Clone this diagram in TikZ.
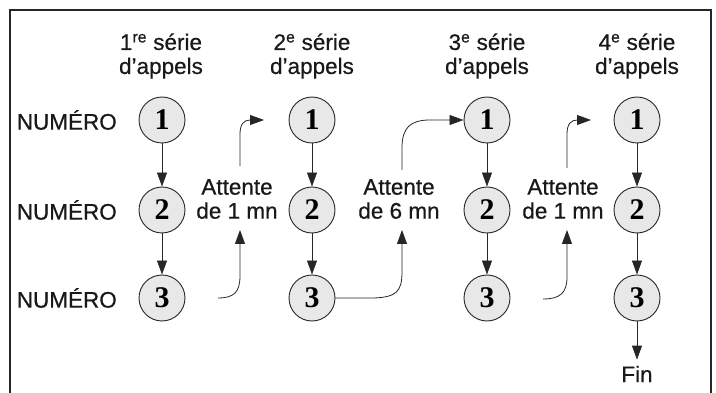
\documentclass[tikz,border=0pt]{standalone}
\usepackage{fontspec}
\setmainfont{Liberation Sans}
\newfontfamily\lblfont{Liberation Sans}[FakeBold=0.6]
\newfontfamily\numfont{Liberation Serif}
\usetikzlibrary{arrows.meta}
\begin{document}
\begin{tikzpicture}[x=1pt,y=-1pt,
  num/.style={circle, draw=black!85, line width=0.9pt, fill=black!9, minimum size=46pt, inner sep=0pt,
    font=\numfont\bfseries\fontsize{30}{30}\selectfont},
  lbl/.style={font=\lblfont\fontsize{22.5}{24}\selectfont, align=center, inner sep=0pt, text=black!90},
  arr/.style={-{Triangle[length=14pt,width=10pt]}, line width=0.8pt, draw=black!85}]
\useasboundingbox (0,0) rectangle (716,393);
\draw[line width=1.5pt, black!85] (10,393) -- (10,10) -- (711,10) -- (711,393);

% headers
\node[lbl] (h1) at (161,56) {1\textsuperscript{re} série\\d’appels};
\node[lbl] (h2) at (312,56) {2\textsuperscript{e} série\\d’appels};
\node[lbl] (h3) at (487,56) {3\textsuperscript{e} série\\d’appels};
\node[lbl] (h4) at (637,56) {4\textsuperscript{e} série\\d’appels};

% row labels
\node[lbl, anchor=east] (n1) at (117,120) {NUMÉRO};
\node[lbl, anchor=east] (n2) at (117,210) {NUMÉRO};
\node[lbl, anchor=east] (n3) at (117,298) {NUMÉRO};

% circles
\foreach \c/\x in {1/162,2/312,3/487,4/637}{
  \node[num] (c\c1) at (\x,120) {1};
  \node[num] (c\c2) at (\x,210) {2};
  \node[num] (c\c3) at (\x,298) {3};
  \draw[arr] (c\c1) -- (c\c2);
  \draw[arr] (c\c2) -- (c\c3);
}

% wait labels
\node[lbl] (w1) at (237,199) {Attente\\de 1 mn};
\node[lbl] (w2) at (399,199) {Attente\\de 6 mn};
\node[lbl] (w3) at (563,199) {Attente\\de 1 mn};

\node[lbl] (fin) at (637,374) {Fin};
\draw[arr, shorten >=6pt] (c43) -- (fin.north);

% wait arrows
\coordinate (a1s) at (218,298);
\coordinate (a1t) at (240,230);
\coordinate (b1s) at (240,166);
\coordinate (b1t) at (264,120);
\draw[arr] (a1s) .. controls (234,298) and (240,292) .. (240,276) -- (a1t);
\draw[arr] (b1s) -- (240,134) .. controls (240,124) and (244,120) .. (b1t);

\coordinate (a2t) at (402,230);
\coordinate (b2s) at (402,170);
\draw[arr] (c23.east) -- (374,298) .. controls (396,297) and (402,292) .. (402,272) -- (a2t);
\draw[arr] (b2s) -- (402,148) .. controls (402,128) and (410,120) .. (430,120) -- (c31.west);

\coordinate (a3s) at (543,299);
\coordinate (a3t) at (567,230);
\coordinate (b3s) at (567,168);
\coordinate (b3t) at (591,120);
\draw[arr] (a3s) .. controls (560,299) and (567,293) .. (567,277) -- (a3t);
\draw[arr] (b3s) -- (567,134) .. controls (567,124) and (571,120) .. (b3t);
\end{tikzpicture}
\end{document}
